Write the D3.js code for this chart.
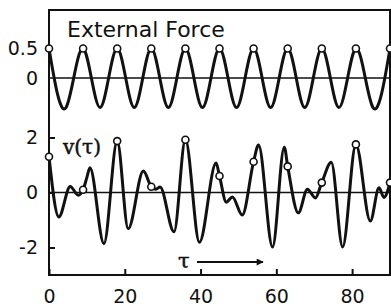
<!DOCTYPE html>
<html>
<head>
<meta charset="utf-8">
<script src="https://cdn.jsdelivr.net/npm/d3@7"></script>
<style>
  body { margin: 0; background: #fff; }
  svg { display: block; }
</style>
</head>
<body>
<svg id="chart"></svg>
<script>
// external force: peaks and troughs of the drive
const forceT = [0, 4.5, 9, 13.5, 18, 22.5, 27, 31.5, 36, 40.5, 45, 49.5, 54, 58.5, 63, 67.5, 72, 76.5, 81, 85.5, 90];
const forceV = [0.5, -0.5, 0.5, -0.5, 0.5, -0.5, 0.5, -0.5, 0.5, -0.5, 0.5, -0.5, 0.5, -0.5, 0.5, -0.5, 0.5, -0.5, 0.5, -0.5, 0.5];

// response v(tau)
const vT = [0, 2.6, 5.6, 7.7, 9, 10, 10.8, 14.5, 18, 20.9, 24.9, 27, 28.2, 29.3, 33, 36, 39.7, 44.1, 45, 46.8, 48.4, 51, 54, 55.3, 59, 62.1, 63, 65.8, 68.2, 70.3, 72, 74.5, 77.5, 81, 84.8, 87.1, 88.4, 90];
const vV = [1.3, -0.89, 0.22, -0.1, 0.1, 0.55, 0.9, -1.86, 1.87, -1.32, 0.78, 0.21, 0.12, 0.2, -1.43, 1.92, -1.81, 1.07, 0.6, -0.35, -0.16, -0.82, 1.12, 1.73, -1.98, 1.65, 0.95, -0.74, 0.12, -0.2, 0.36, 1.1, -1.98, 1.75, -1.04, 0.17, -0.18, 0.36];

// sampling times marked by circles
const sampleT = [0, 9, 18, 27, 36, 45, 54, 63, 72, 81, 90];

const xTicks = [0, 20, 40, 60, 80];
const forceTicks = [0, 0.5];
const vTicks = [-2, 0, 2];

const width = 391, height = 308;
const ink = "#111";

const svg = d3.select("#chart")
    .attr("width", width)
    .attr("height", height);

const x = d3.scaleLinear().domain([0, 90]).range([49, 390]);
const yF = d3.scaleLinear().domain([-0.5, 0.5]).range([107.5, 48.5]);
const yV = d3.scaleLinear().domain([-2, 2]).range([247.5, 137.5]);
const bottom = 275;

const forceData = forceT.map((t, i) => ({ t: t, v: forceV[i] }));
const vData = vT.map((t, i) => ({ t: t, v: vV[i] }));

// frame
svg.append("rect")
    .attr("x", x(0)).attr("y", 10)
    .attr("width", x(90) - x(0)).attr("height", bottom - 10)
    .attr("fill", "none").attr("stroke", ink).attr("stroke-width", 2);

// zero lines
[[yF, 0], [yV, 0]].forEach(([s, v]) => {
    svg.append("line")
        .attr("x1", x(0)).attr("x2", x(90))
        .attr("y1", s(v)).attr("y2", s(v))
        .attr("stroke", ink).attr("stroke-width", 1.5);
});

// axes
function styleAxis(g) {
    g.select(".domain").remove();
    g.selectAll(".tick line").attr("stroke", ink).attr("stroke-width", 2);
    g.selectAll(".tick text")
        .attr("fill", ink)
        .style("font-family", "'DejaVu Sans', sans-serif")
        .style("font-size", "19px");
}

svg.append("g")
    .attr("transform", `translate(0,${bottom})`)
    .call(d3.axisBottom(x).tickValues(xTicks).tickSize(-6).tickPadding(15).tickFormat(d3.format("d")))
    .call(styleAxis);

svg.append("g")
    .attr("transform", `translate(${x(0)},0)`)
    .call(d3.axisLeft(yF).tickValues(forceTicks).tickSize(0).tickPadding(11).tickFormat(d => d === 0 ? "0" : "0.5"))
    .call(styleAxis);

svg.append("g")
    .attr("transform", `translate(${x(0)},0)`)
    .call(d3.axisLeft(yV).tickValues(vTicks).tickSize(-6).tickPadding(11).tickFormat(d => d < 0 ? "-" + Math.abs(d) : d))
    .call(styleAxis);

// curves
const forceLine = d3.line().x(d => x(d.t)).y(d => yF(d.v)).curve(d3.curveNatural);
const vLine = d3.line().x(d => x(d.t)).y(d => yV(d.v)).curve(d3.curveMonotoneX);

svg.append("path").datum(forceData)
    .attr("d", forceLine)
    .attr("fill", "none").attr("stroke", ink).attr("stroke-width", 3);

svg.append("path").datum(vData)
    .attr("d", vLine)
    .attr("fill", "none").attr("stroke", ink).attr("stroke-width", 3);

// sample circles
svg.append("g").selectAll("circle")
    .data(forceData.filter(d => sampleT.includes(d.t)))
    .enter().append("circle")
    .attr("cx", d => x(d.t)).attr("cy", d => yF(d.v)).attr("r", 3.5)
    .attr("fill", "#fff").attr("stroke", ink).attr("stroke-width", 1.6);

svg.append("g").selectAll("circle")
    .data(vData.filter(d => sampleT.includes(d.t)))
    .enter().append("circle")
    .attr("cx", d => x(d.t)).attr("cy", d => yV(d.v)).attr("r", 3.5)
    .attr("fill", "#fff").attr("stroke", ink).attr("stroke-width", 1.6);

// labels
svg.append("text")
    .attr("x", 67).attr("y", 37)
    .attr("fill", ink)
    .style("font-family", "'DejaVu Sans', sans-serif")
    .style("font-size", "22px")
    .text("External Force");

svg.append("text")
    .attr("x", 63).attr("y", 154)
    .attr("fill", ink)
    .attr("stroke", ink).attr("stroke-width", 0.5)
    .style("font-family", "'DejaVu Serif', serif")
    .style("font-size", "20px")
    .text("v(τ)");

svg.append("text")
    .attr("x", 178).attr("y", 268)
    .attr("fill", ink)
    .attr("stroke", ink).attr("stroke-width", 0.5)
    .style("font-family", "'DejaVu Serif', serif")
    .style("font-size", "21px")
    .text("τ");

svg.append("defs").append("marker")
    .attr("id", "arrow")
    .attr("viewBox", "0 0 10 10").attr("refX", 9).attr("refY", 5)
    .attr("markerWidth", 14).attr("markerHeight", 7)
    .attr("markerUnits", "userSpaceOnUse")
    .attr("orient", "auto")
    .append("path").attr("d", "M0,0L10,5L0,10Z").attr("fill", ink);

svg.append("line")
    .attr("x1", 197).attr("x2", 263)
    .attr("y1", 262).attr("y2", 262)
    .attr("stroke", ink).attr("stroke-width", 2)
    .attr("marker-end", "url(#arrow)");
</script>
</body>
</html>
